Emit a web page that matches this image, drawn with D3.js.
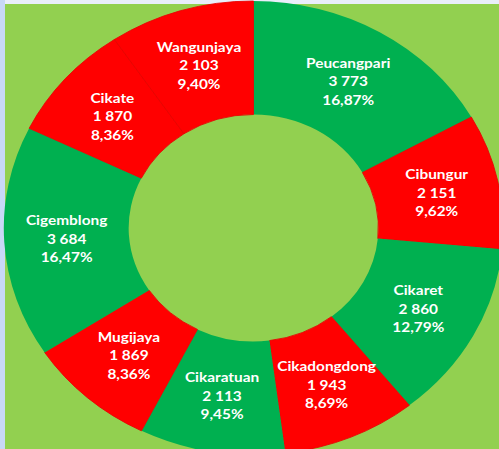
<!DOCTYPE html>
<html>
<head>
<meta charset="utf-8">
<script src="https://cdn.jsdelivr.net/npm/d3@7"></script>
<style>
    html, body { margin: 0; padding: 0; background: #eef2fb; }
    svg { display: block; }
    .slice-label { fill: #ffffff; font-family: Lato, "Open Sans", sans-serif; font-weight: 700; font-size: 14px; }
</style>
</head>
<body>
<div id="chart"></div>
<script>
// villages, clockwise from 12 o'clock
const villages = ["Peucangpari", "Cibungur", "Cikaret", "Cikadongdong", "Cikaratuan", "Mugijaya", "Cigemblong", "Cikate", "Wangunjaya"];
const population = [3773, 2151, 2860, 1943, 2113, 1869, 3684, 1870, 2103];
const sliceColors = ["#00b050", "#ff0000", "#00b050", "#ff0000", "#00b050", "#ff0000", "#00b050", "#ff0000", "#ff0000"];

const config = {
    width: 499,
    height: 449,
    cx: 253.5,
    cy: 228,
    outerRadius: 227,
    innerRatio: 0.5,
    stretchX: 1.1,
    lineGap: 18.5,
};

const locale = d3.formatLocale({ decimal: ",", thousands: " ", grouping: [3], currency: ["", ""] });
const fmtValue = locale.format(",d");
const fmtPct = locale.format(".2f");
const total = d3.sum(population);

const data = villages.map((name, i) => ({
    name: name,
    value: population[i],
    color: sliceColors[i],
}));

const svg = d3.select("#chart")
    .append("svg")
    .attr("width", config.width)
    .attr("height", config.height);

// frame: pale blue edge strips, green panel
svg.append("rect")
    .attr("x", 0).attr("y", 0)
    .attr("width", config.width).attr("height", config.height)
    .attr("fill", "#e9eefa");
svg.append("rect")
    .attr("x", 0).attr("y", 0)
    .attr("width", 5).attr("height", config.height)
    .attr("fill", "#c8d8f6");
svg.append("rect")
    .attr("x", 5).attr("y", 4)
    .attr("width", config.width - 5).attr("height", config.height - 4)
    .attr("fill", "#92d050");

const pie = d3.pie().value((d) => d.value).sort(null);
const arc = d3.arc()
    .innerRadius(config.outerRadius * config.innerRatio)
    .outerRadius(config.outerRadius);
const labelArc = d3.arc()
    .innerRadius((config.outerRadius * (1 + config.innerRatio)) / 2)
    .outerRadius((config.outerRadius * (1 + config.innerRatio)) / 2);

// the reference is stretched horizontally, text included
const chart = svg.append("g")
    .attr("transform", `translate(${config.cx},${config.cy}) scale(${config.stretchX},1)`);

const arcs = pie(data);

chart.selectAll(".slice")
    .data(arcs)
    .enter()
    .append("path")
    .attr("class", "slice")
    .attr("d", arc)
    .attr("fill", (d) => d.data.color)
    .attr("stroke", (d) => d.data.color === "#ff0000" ? "#e80000" : "none")
    .attr("stroke-width", 0.8);

const labels = chart.selectAll(".slice-label")
    .data(arcs)
    .enter()
    .append("text")
    .attr("class", "slice-label")
    .attr("text-anchor", "middle")
    .attr("transform", (d) => `translate(${labelArc.centroid(d)})`);

labels.append("tspan")
    .attr("x", 0)
    .attr("y", -config.lineGap + 5)
    .text((d) => d.data.name);
labels.append("tspan")
    .attr("x", 0)
    .attr("y", 5)
    .text((d) => fmtValue(d.data.value));
labels.append("tspan")
    .attr("x", 0)
    .attr("y", config.lineGap + 5)
    .text((d) => `${fmtPct((d.data.value / total) * 100)}%`);
</script>
</body>
</html>
